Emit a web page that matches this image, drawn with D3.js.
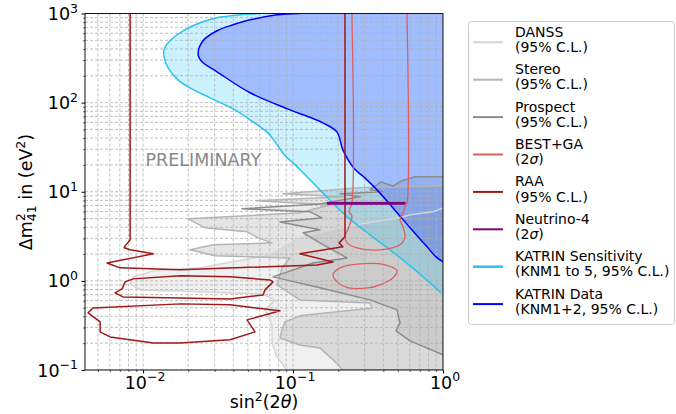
<!DOCTYPE html>
<meta charset="utf-8">
<style>
body { margin: 0; background: #fff; }
text { font-family: "DejaVu Sans", sans-serif; }
</style>
<svg width="676" height="414"></svg>
<script src="https://d3js.org/d3.v7.min.js"></script>
<script>

// ---- data: [sin^2(2theta), dm2_41] ----
var danss = [[1,6.59],[0.858,5.95],[0.603,5.51],[0.517,5.10],[0.341,4.59],[0.206,3.94],[0.111,3.04],
  [0.0703,1.96],[0.024,1.40],[0.0117,1.295],[0.00858,1.109],[0.0082,0.925],[0.00955,0.792],[0.024,0.753],
  [0.0621,0.715],[0.0759,0.612],[0.065,0.473],[0.0724,0.321],[0.0724,0.201],[0.0782,0.140],[0.0912,0.1],[1,0.1]];

var stereo = [[1,11.6],[0.28,11.1],[0.0858,9.47],[0.222,8.77],[0.0566,7.91],[0.177,7.13],[0.111,5.80],
  [0.02,4.97],[0.0259,3.94],[0.0493,3.55],[0.0585,3.04],[0.0724,2.67],[0.0293,2.54],[0.0206,2.23],
  [0.0302,1.91],[0.0955,1.81],[0.0845,1.40],[0.0782,0.902],[0.111,0.612],[0.326,0.566],[0.336,0.497],
  [0.111,0.405],[0.0885,0.347],[0.0845,0.282],[0.0819,0.229],[0.111,0.191],[0.151,0.177],[0.185,0.130],
  [0.215,0.1],[1,0.1]];

var prospect = [[1,14.7],[0.65,14.7],[0.533,13.3],[0.464,11.6],[0.386,12.9],[0.326,10.5],[0.398,9.97],
  [0.206,9.47],[0.28,8.77],[0.151,7.31],[0.0457,6.43],[0.13,5.95],[0.156,5.10],[0.0819,4.59],[0.151,3.74],
  [0.117,3.46],[0.151,2.67],[0.229,1.81],[0.136,1.59],[0.0736,1.109],[0.151,0.835],[0.326,0.612],
  [0.493,0.473],[0.517,0.338],[0.486,0.275],[0.603,0.212],[1,0.148]];

var bestBand = [[0.247,1000],[0.247,7.50],[0.236,5.95],[0.247,5.37],[0.236,4.04],[0.222,3.12],[0.229,2.67],
  [0.267,2.35],[0.38,2.23],[0.517,2.54],[0.558,3.12],[0.541,4.04],[0.517,4.84],[0.541,5.80],[0.558,6.77],
  [0.575,7.50],[0.575,1000]];
var bestIsland = [[0.185,1.168],[0.206,1.40],[0.28,1.55],[0.41,1.51],[0.493,1.295],[0.464,1.081],
  [0.38,0.902],[0.316,0.835],[0.233,0.835],[0.2,0.95]];

var raaMain = [[0.0082,1000],[0.0082,2.88],[0.00759,2.47],[0.00747,2.35],[0.0082,2.23],[0.0117,2.01],
  [0.00575,1.59],[0.00703,1.40],[0.0177,1.33],[0.1445,1.51],[0.185,1.63],[0.111,2.01],[0.215,2.41],
  [0.203,2.67],[0.222,3.12],[0.222,1000]];
var raaIsland1 = [[0.00858,1.053],[0.0177,1.138],[0.038,1.109],[0.0703,1.026],[0.0736,0.974],[0.065,0.792],
  [0.0631,0.696],[0.038,0.628],[0.0177,0.644],[0.00736,0.661],[0.0065,0.733],[0.00724,0.813],[0.00759,0.974]];
var raaIsland2 = [[0.00464,0.497],[0.0177,0.552],[0.038,0.538],[0.0819,0.461],[0.0493,0.365],[0.0558,0.268],
  [0.038,0.218],[0.0177,0.201],[0.0117,0.201],[0.00603,0.235],[0.00517,0.268],[0.00517,0.347],[0.0043,0.438]];

var neutrino4 = [[0.169,7.25],[0.169,7.6],[0.558,7.6],[0.558,7.25]];

var katrinSens = [[0.0603,1000],[0.0443,966],[0.0311,895],[0.0240,787],[0.0185,640],[0.0151,494],
  [0.0138,391],[0.0138,327],[0.0147,246],[0.0171,180],[0.0200,150],[0.0280,113],[0.0410,83.0],
  [0.0541,60.9],[0.0681,45.8],[0.0759,36.3],[0.0885,25.3],[0.100,21.1],[0.124,14.7],[0.158,9.72],
  [0.222,5.51],[0.326,3.28],[0.443,2.23],[0.650,1.33],[0.819,0.950],[0.970,0.733]];

var katrinData = [[0.111,1000],[0.0782,966],[0.0517,849],[0.0398,747],[0.0311,640],[0.0251,494],
  [0.0233,344],[0.0247,287],[0.0311,222],[0.0517,129],[0.0955,83.0],[0.158,59.3],[0.196,47.0],
  [0.215,29.5],[0.251,19.0],[0.311,13.6],[0.363,10.5],[0.464,6.59],[0.603,3.94],[0.782,2.41],
  [0.898,1.86],[1.0,1.63]];

var legendNames = ["DANSS", "Stereo", "Prospect", "BEST+GA", "RAA", "Neutrino-4", "KATRIN Sensitivity", "KATRIN Data"];
var legendNotes = ["(95% C.L.)", "(95% C.L.)", "(95% C.L.)", "(2σ)", "(95% C.L.)", "(2σ)", "(KNM1 to 5, 95% C.L.)", "(KNM1+2, 95% C.L.)"];
var legendColors = ["#d6d6d6", "#b4b4b4", "#8c8c8c", "#dd6060", "#a01818", "#800080", "#2ac3f2", "#0000ff"];

var xTickExp = [-2, -1, 0];
var yTickExp = [-1, 0, 1, 2, 3];

// ---- layout ----
var svg = d3.select("svg");
var x = d3.scaleLog().domain([0.0041, 1]).range([85, 443]);
var y = d3.scaleLog().domain([0.1, 1000]).range([370, 13.5]);

svg.append("defs").append("clipPath").attr("id", "plot")
   .append("rect").attr("x", 85).attr("y", 13.5).attr("width", 358).attr("height", 356.5);

var line = d3.line().x(function(d) { return x(d[0]); }).y(function(d) { return y(d[1]); });
var smooth = d3.line().x(function(d) { return x(d[0]); }).y(function(d) { return y(d[1]); })
  .curve(d3.curveCatmullRom.alpha(0.5));
var smoothClosed = d3.line().x(function(d) { return x(d[0]); }).y(function(d) { return y(d[1]); })
  .curve(d3.curveCatmullRomClosed.alpha(0.5));
var g = svg.append("g").attr("clip-path", "url(#plot)");

function fillPath(d, color, op) {
  g.append("path").attr("d", d).attr("fill", color).attr("fill-opacity", op).attr("stroke", "none");
}
function strokePath(d, color, w) {
  g.append("path").attr("d", d).attr("fill", "none")
   .attr("stroke", color).attr("stroke-width", w).attr("stroke-linejoin", "round");
}

// fills
fillPath(line(danss) + "Z", "#d3d3d3", 0.35);
fillPath(line(stereo) + "Z", "#a9a9a9", 0.3);
fillPath(line(prospect) + "Z", "#808080", 0.15);
fillPath(smooth(katrinSens) + "L" + x(1) + "," + y(0.733) + "L" + x(1) + "," + y(1000) + "Z", "#00bfff", 0.2);
fillPath(smooth(katrinData) + "L" + x(1) + "," + y(1000) + "Z", "#0000ff", 0.22);

// grid (major + minor)
var xGrid = [], yGrid = [];
for (var e = -3; e <= 0; e++) for (var m = 1; m <= 9; m++) {
  var v = m * Math.pow(10, e);
  if (v >= 0.0041 && v <= 1) xGrid.push(v);
}
for (var e = -1; e <= 3; e++) for (var m = 1; m <= 9; m++) {
  var v = m * Math.pow(10, e);
  if (v <= 1000) yGrid.push(v);
}
g.selectAll(".gx").data(xGrid).enter().append("line")
  .attr("x1", function(d) { return x(d); }).attr("x2", function(d) { return x(d); })
  .attr("y1", 13.5).attr("y2", 370)
  .attr("stroke", "#b0b0b0").attr("stroke-width", 0.8).attr("stroke-dasharray", "3,2");
g.selectAll(".gy").data(yGrid).enter().append("line")
  .attr("y1", function(d) { return y(d); }).attr("y2", function(d) { return y(d); })
  .attr("x1", 85).attr("x2", 443)
  .attr("stroke", "#b0b0b0").attr("stroke-width", 0.8).attr("stroke-dasharray", "3,2");

// contour lines
strokePath(line(danss), legendColors[0], 1.5);
strokePath(line(stereo), legendColors[1], 1.5);
strokePath(line(prospect), legendColors[2], 1.5);
strokePath(smooth(katrinSens), legendColors[6], 1.5);
strokePath(smooth(katrinData), legendColors[7], 1.5);
strokePath(smooth(bestBand), legendColors[3], 1.3);
strokePath(smoothClosed(bestIsland), legendColors[3], 1.3);
strokePath(line(raaMain), legendColors[4], 1.5);
strokePath(line(raaIsland1) + "Z", legendColors[4], 1.5);
strokePath(line(raaIsland2) + "Z", legendColors[4], 1.5);
g.append("path").attr("d", line(neutrino4) + "Z").attr("fill", "#800080").attr("stroke", "#800080").attr("stroke-width", 1);

// PRELIMINARY
svg.append("text").attr("x", 145.5).attr("y", 165.5).style("font-size", "17.5px").attr("fill", "#8a8a8a").text("PRELIMINARY");

// axes frame
svg.append("rect").attr("x", 85).attr("y", 13.5).attr("width", 358).attr("height", 356.5)
   .attr("fill", "none").attr("stroke", "#111").attr("stroke-width", 1);

// ticks
var xMajor = xTickExp.map(function(e) { return Math.pow(10, e); });
var yMajor = yTickExp.map(function(e) { return Math.pow(10, e); });
var xMinor = xGrid.filter(function(v) { return xMajor.indexOf(v) < 0; });
var yMinor = yGrid.filter(function(v) { return yMajor.indexOf(v) < 0; });

svg.append("g").attr("transform", "translate(0,370)")
   .call(d3.axisBottom(x).tickValues(xMajor).tickSize(3.5).tickFormat(""))
   .call(function(s) { s.select(".domain").remove(); });
svg.append("g").attr("transform", "translate(0,370)")
   .call(d3.axisBottom(x).tickValues(xMinor).tickSize(2).tickFormat(""))
   .call(function(s) { s.select(".domain").remove(); s.selectAll("line").attr("stroke-width", 0.6); });
svg.append("g").attr("transform", "translate(85,0)")
   .call(d3.axisLeft(y).tickValues(yMajor).tickSize(3.5).tickFormat(""))
   .call(function(s) { s.select(".domain").remove(); });
svg.append("g").attr("transform", "translate(85,0)")
   .call(d3.axisLeft(y).tickValues(yMinor).tickSize(2).tickFormat(""))
   .call(function(s) { s.select(".domain").remove(); s.selectAll("line").attr("stroke-width", 0.6); });

function expLabel(e) { return (e < 0 ? "\u2212" : "") + Math.abs(e); }

xTickExp.forEach(function(e) {
  var t = svg.append("text").attr("x", x(Math.pow(10, e)) + 2).attr("y", 388.5)
    .attr("text-anchor", "middle").style("font-size", "17.5px");
  t.append("tspan").text("10");
  t.append("tspan").attr("dy", -7.5).style("font-size", "12.5px").text(expLabel(e));
});
yTickExp.forEach(function(e) {
  var t = svg.append("text").attr("x", 78).attr("y", y(Math.pow(10, e)) + 6.5)
    .attr("text-anchor", "end").style("font-size", "17.5px");
  t.append("tspan").text("10");
  t.append("tspan").attr("dy", -7.5).style("font-size", "12.5px").text(expLabel(e));
});

// axis titles
var xl = svg.append("text").attr("x", 264).attr("y", 408).attr("text-anchor", "middle").style("font-size", "17.5px");
xl.append("tspan").text("sin");
xl.append("tspan").attr("dy", -7).style("font-size", "12.5px").text("2");
xl.append("tspan").attr("dy", 7).text("(2");
xl.append("tspan").style("font-style", "italic").text("θ");
xl.append("tspan").text(")");

var yl = svg.append("text").attr("transform", "translate(32,192) rotate(-90)")
  .attr("text-anchor", "middle").style("font-size", "17.5px");
yl.append("tspan").text("Δm");
yl.append("tspan").attr("dy", -7).style("font-size", "12.5px").text("2");
yl.append("tspan").attr("dx", -8).attr("dy", 11).style("font-size", "12.5px").text("41");
yl.append("tspan").attr("dy", -4).text(" in (eV");
yl.append("tspan").attr("dy", -7).style("font-size", "12.5px").text("2");
yl.append("tspan").attr("dy", 7).text(")");

// legend
var lg = svg.append("g");
lg.append("rect").attr("x", 468.5).attr("y", 21.5).attr("width", 206).attr("height", 303).attr("rx", 3)
  .attr("fill", "#fff").attr("fill-opacity", 0.8).attr("stroke", "#cccccc").attr("stroke-width", 1);
legendNames.forEach(function(name, i) {
  var ly = 42.3 + i * 37.4;
  lg.append("line").attr("x1", 473).attr("x2", 503).attr("y1", ly).attr("y2", ly)
    .attr("stroke", legendColors[i]).attr("stroke-width", i == 6 ? 2.5 : 2);
  lg.append("text").attr("x", 515).attr("y", ly - 5.6).style("font-size", "14px").text(name);
  var t = lg.append("text").attr("x", 515).attr("y", ly + 9.6).style("font-size", "14px");
  var note = legendNotes[i];
  if (note.indexOf("σ") >= 0) {
    var parts = note.split("σ");
    t.append("tspan").text(parts[0]);
    t.append("tspan").style("font-style", "italic").text("σ");
    t.append("tspan").text(parts[1]);
  } else {
    t.text(note);
  }
});

</script>
